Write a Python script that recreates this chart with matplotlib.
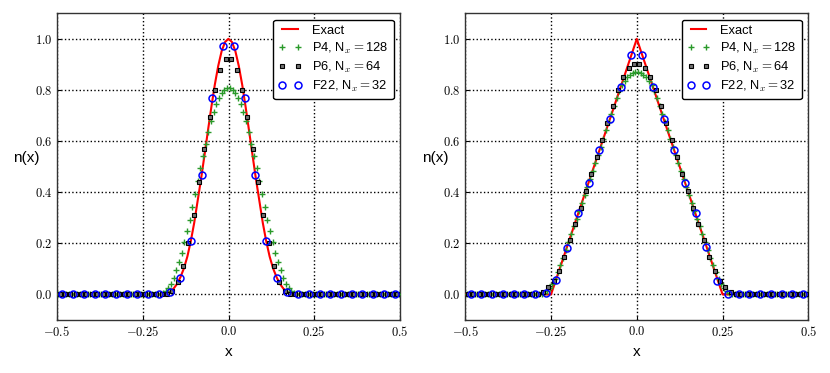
import numpy as np
import matplotlib
matplotlib.use('Agg')
import matplotlib.pyplot as plt

plt.rcParams['font.family'] = ['Liberation Sans', 'DejaVu Sans']
plt.rcParams['mathtext.fontset'] = 'cm'

# ---------------- data ----------------
x_ticks = [-0.5, -0.25, 0.0, 0.25, 0.5]
x_tick_labels = [r'$-0.5$', r'$-0.25$', r'$0.0$', r'$0.25$', r'$0.5$']
y_ticks = [0.0, 0.2, 0.4, 0.6, 0.8, 1.0]
y_tick_labels = [r'$0.0$', r'$0.2$', r'$0.4$', r'$0.6$', r'$0.8$', r'$1.0$']

series_labels = ['Exact', r'P4, N$_x=$128', r'P6, N$_x=$64', r'F22, N$_x=$32']
grid_sizes = [128, 64, 32]

# Left panel: exact profile (|x| = 0.00 ... 0.20 step 0.01), zero beyond
exact_left_absx = [0.00, 0.01, 0.02, 0.03, 0.04, 0.05, 0.06, 0.07, 0.08, 0.09, 0.10,
                   0.11, 0.12, 0.13, 0.14, 0.15, 0.16, 0.17, 0.18, 0.19, 0.20, 0.5]
exact_left_half = [1.0, 0.988, 0.952, 0.894, 0.820, 0.733, 0.640, 0.545, 0.452, 0.366, 0.280,
                   0.208, 0.148, 0.102, 0.068, 0.041, 0.023, 0.011, 0.003, 0.0, 0.0, 0.0]

# Left panel: numerical values from the centre outward (cells nearest x=0 first)
p4_left_half = [0.807, 0.800, 0.787, 0.768, 0.744, 0.714, 0.677, 0.634, 0.588, 0.541,
                0.494, 0.444, 0.394, 0.341, 0.292, 0.248, 0.205, 0.163, 0.126, 0.094,
                0.065, 0.042, 0.025, 0.012, 0.004, 0.001]
p6_left_half = [0.920, 0.878, 0.800, 0.695, 0.570, 0.440, 0.312, 0.200, 0.112, 0.047,
                0.015, 0.003]
f22_left_half = [0.971, 0.768, 0.468, 0.211, 0.065, 0.010]

# Right panel: exact triangle
exact_right_x = [-0.5, -0.25, 0.0, 0.25, 0.5]
exact_right_y = [0.0, 0.0, 1.0, 0.0, 0.0]

p4_right_half = [0.870, 0.867, 0.860, 0.850, 0.836, 0.818, 0.795, 0.768, 0.737, 0.706,
                 0.674, 0.642, 0.610, 0.578, 0.547, 0.516, 0.484, 0.453, 0.422, 0.391,
                 0.359, 0.328, 0.297, 0.266, 0.235, 0.204, 0.173, 0.143, 0.114, 0.087,
                 0.062, 0.041, 0.025, 0.014, 0.007, 0.003, 0.001]
p6_right_half = [0.902, 0.886, 0.852, 0.800, 0.738, 0.670, 0.603, 0.536, 0.470, 0.403,
                 0.340, 0.275, 0.212, 0.148, 0.092, 0.052, 0.028, 0.010, 0.003]
# F22 right, full grid from x=-0.484 to 0.484
f22_right = [0.0, 0.0, 0.0, 0.0, 0.0, 0.0, 0.0, 0.007, 0.058, 0.182, 0.318, 0.435,
             0.565, 0.688, 0.812, 0.937, 0.937, 0.811, 0.687, 0.565, 0.435, 0.318, 0.185,
             0.051, 0.0, 0.002, 0.0, 0.0, 0.0, 0.0, 0.0, 0.0]


def mirror(half, n):
    h = list(half) + [0.0] * (n // 2 - len(half))
    return np.array(h[::-1] + h)


def centers(n):
    return -0.5 + (np.arange(n) + 0.5) / n


exact_left_x = np.concatenate([-np.array(exact_left_absx[::-1]), np.array(exact_left_absx[1:])])
exact_left_y = np.concatenate([np.array(exact_left_half[::-1]), np.array(exact_left_half[1:])])

panels = [
    dict(exact=(exact_left_x, exact_left_y),
         p4=mirror(p4_left_half, 128), p6=mirror(p6_left_half, 64), f22=mirror(f22_left_half, 32)),
    dict(exact=(np.array(exact_right_x), np.array(exact_right_y)),
         p4=mirror(p4_right_half, 128), p6=mirror(p6_right_half, 64), f22=np.array(f22_right)),
]

# ---------------- plot ----------------
fig = plt.figure(figsize=(8.3, 3.73), dpi=100)
lefts = [57 / 830, 465.3 / 830]
ylabel_x = [-0.090, -0.088]
green = '#2a9a2a'

for pd_, left, ylx in zip(panels, lefts, ylabel_x):
    ax = fig.add_axes([left, 0.1421, 343 / 830, 0.8222])
    ex, ey = pd_['exact']
    ax.plot(ex, ey, '-', color='red', lw=1.5, label=series_labels[0], zorder=3)
    ax.plot(centers(128), pd_['p4'], '+', color=green, ms=4, mew=1.0,
            label=series_labels[1], zorder=4)
    ax.plot(centers(64), pd_['p6'], 's', mfc='0.45', mec='black', ms=2.6, mew=0.8,
            label=series_labels[2], zorder=5)
    ax.plot(centers(32), pd_['f22'], 'o', mfc='none', mec='blue', ms=5, mew=1.1,
            label=series_labels[3], zorder=6)

    ax.set_xlim(-0.5, 0.5)
    ax.set_ylim(-0.1, 1.1)
    ax.set_xticks(x_ticks, labels=x_tick_labels)
    ax.set_yticks(y_ticks, labels=y_tick_labels)
    ax.tick_params(direction='in', length=3, labelsize=9, colors='black')
    ax.grid(True, linestyle=':', color='black', lw=1.0)
    for s in ax.spines.values():
        s.set_color('#333333')
        s.set_linewidth(1.0)

    ax.set_xlabel('x', fontsize=11)
    ax.xaxis.set_label_coords(0.5, -0.104)
    ax.xaxis.label.set_va('center')
    ax.set_ylabel('n(x)', fontsize=11, rotation=0, ha='center', va='center')
    ax.yaxis.set_label_coords(ylx, 0.528)

    leg = ax.legend(loc='upper right', fontsize=9.3, numpoints=2, fancybox=True,
                    framealpha=1.0, edgecolor='black', borderaxespad=0.5,
                    labelspacing=0.3, handlelength=1.8)
    leg.get_frame().set_linewidth(1.0)

fig.savefig('out.png', dpi=100)
